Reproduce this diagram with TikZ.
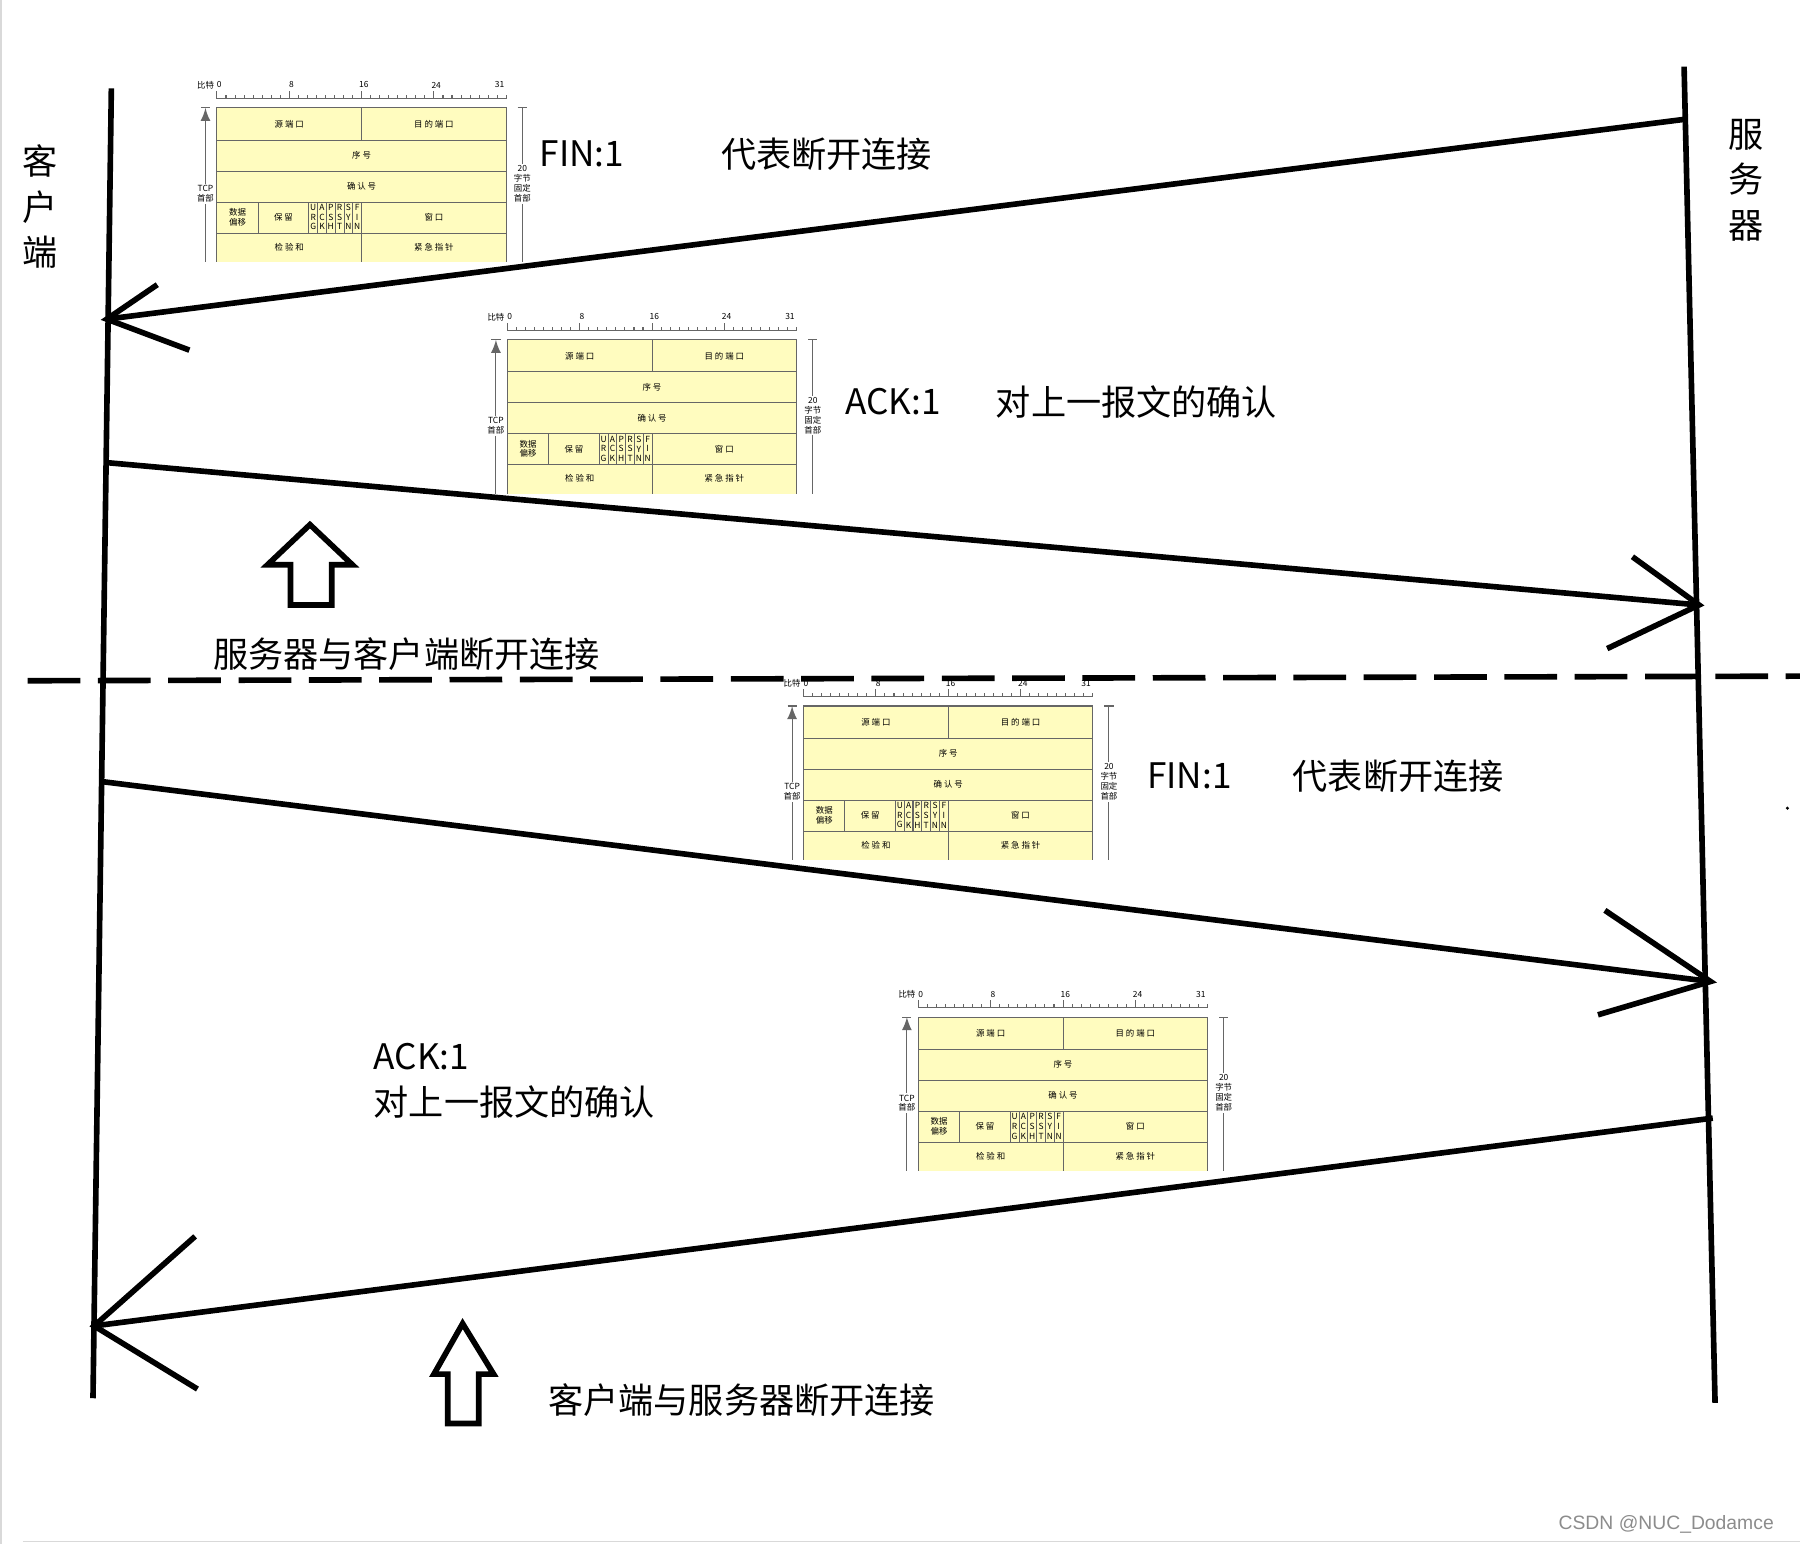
\documentclass[tikz,border=0pt]{standalone}
\usepackage{fontspec}
\setmainfont{Liberation Serif}
\setsansfont{Liberation Sans}
\newfontfamily\cjk{Noto Sans CJK SC}
\usetikzlibrary{positioning}

\tikzset{
  msg/.style={line width=1.6pt},
  big/.style={font=\cjk\fontsize{10}{12}\selectfont, inner sep=0pt},
  tiny/.style={font=\cjk\fontsize{2.4}{2.8}\selectfont, inner sep=0pt, align=center},
  hdr/.style={draw=black!60, line width=0.3pt}
}

% TCP header picture, top-left corner of yellow box at (#1,#2)
\newcommand\tcphdr[2]{%
\begin{scope}[shift={(#1,#2)}]
\fill[yellow!25] (0,0) rectangle (252,134);
\draw[hdr] (0,134) -- (0,0) -- (252,0) -- (252,134);
\foreach \yy in {28,55,82,109} \draw[hdr] (0,\yy) -- (252,\yy);
\draw[hdr] (126,0) -- (126,28);
\draw[hdr] (126,109) -- (126,134);
\foreach \xx in {36,80,87.7,95.3,103,110.7,118.3,126} \draw[hdr] (\xx,82) -- (\xx,109);
\draw[hdr] (0,-8) -- (252,-8);
\foreach \i in {0,...,32} \draw[hdr] ({\i*7.875},-8) -- ({\i*7.875},-11);
\foreach \i in {0,8,16,24} \draw[hdr] ({\i*7.875},-8) -- ({\i*7.875},-15);
\node[tiny, anchor=east] at (-2,-20) {比特};
\foreach \i in {0,8,16,24,31} \node[tiny] at ({\i*7.875+2},-20) {\i};
\node[tiny] at (63,14) {源 端 口};
\node[tiny] at (189,14) {目 的 端 口};
\node[tiny] at (126,41) {序 号};
\node[tiny] at (126,68) {确 认 号};
\node[tiny] at (18,95) {数据\\偏移};
\node[tiny] at (58,95) {保 留};
\foreach \f [count=\k] in {U\\R\\G,A\\C\\K,P\\S\\H,R\\S\\T,S\\Y\\N,F\\I\\N}
  \node[tiny] at ({80+(\k-0.5)*7.67},95) {\f};
\node[tiny] at (189,95) {窗 口};
\node[tiny] at (63,121) {检 验 和};
\node[tiny] at (189,121) {紧 急 指 针};
\draw[hdr, -latex] (-10,134) -- (-10,0);
\draw[hdr] (-14,0) -- (-6,0);
\node[tiny, fill=white, inner sep=0.5pt] at (-10,75) {TCP\\首部};
\draw[hdr] (266,0) -- (266,134);
\draw[hdr] (262,0) -- (270,0);
\node[tiny, fill=white, inner sep=0.5pt] at (266,66) {20\\字节\\固定\\首部};
\end{scope}}

\begin{document}
\begin{tikzpicture}[x=0.01148cm, y=-0.01148cm]
\useasboundingbox (0,0) rectangle (1568,1345);
\draw[black!15] (1,0) -- (1,1345);
\draw[black!15] (20,1343) -- (1568,1343);

% TCP headers
\tcphdr{189}{94}
\tcphdr{442}{296}
\tcphdr{700}{615}
\tcphdr{800}{886}

% time lines
\coordinate (ctop) at (97,77);
\coordinate (cbot) at (81,1218);
\coordinate (stop) at (1467,58);
\coordinate (sbot) at (1494,1222);
\draw[msg] (ctop) -- (cbot);
\draw[msg] (stop) -- (sbot);

% messages
\coordinate (m1s) at (1467,104);
\coordinate (m1e) at (93,278);
\draw[msg] (m1s) -- (m1e);
\draw[msg] (137,248) -- (m1e) -- (165,305);

\coordinate (m2s) at (93,403);
\coordinate (m2e) at (1480,527);
\draw[msg] (m2s) -- (m2e);
\draw[msg] (1422,485) -- (m2e) -- (1400,565);

\coordinate (m3s) at (90,681);
\coordinate (m3e) at (1490,855);
\draw[msg] (m3s) -- (m3e);
\draw[msg] (1398,793) -- (m3e) -- (1392,884);

\coordinate (m4s) at (1492,974);
\coordinate (m4e) at (82,1155);
\draw[msg] (m4s) -- (m4e);
\draw[msg] (170,1077) -- (m4e) -- (172,1210);

% dashed separator
\draw[line width=1.6pt, dash pattern=on 15pt off 5pt] (24,593) -- (1568,589);

% hollow up arrows
\draw[line width=1.6pt, line join=miter] (253,527) -- (253,492) -- (233,492) -- (270,457)
  -- (307,492) -- (289,492) -- (289,527) -- cycle;
\draw[line width=1.6pt, line join=miter] (390,1240) -- (390,1197) -- (378,1197) -- (403,1153)
  -- (430,1197) -- (417,1197) -- (417,1240) -- cycle;

% labels
\node[big, align=center] (client) at (35,180) {客\\[1pt]户\\[1pt]端};
\node[big, align=center] (server) at (1521,157) {服\\[1pt]务\\[1pt]器};
\node[big] (fin1) at (507,134) {FIN:1};
\node[big] (fin1t) at (720,134) {代表断开连接};
\node[big] (ack1) at (778,350) {ACK:1};
\node[big] (ack1t) at (990,350) {对上一报文的确认};
\node[big, anchor=west] (sdis) at (185,570) {服务器与客户端断开连接};
\node[big] (fin2) at (1036,676) {FIN:1};
\node[big] (fin2t) at (1218,676) {代表断开连接};
\node[big, anchor=west] (ack2) at (325,920) {ACK:1};
\node[big, anchor=west] (ack2t) at (325,960) {对上一报文的确认};
\node[big, anchor=west] (cdis) at (477,1220) {客户端与服务器断开连接};
\fill (1557,704) circle (1.5);
\node[font=\sffamily\fontsize{5.5}{7}\selectfont, text=black!45, anchor=east] (mark) at (1556,1328) {CSDN @NUC\_Dodamce};
\end{tikzpicture}
\end{document}
